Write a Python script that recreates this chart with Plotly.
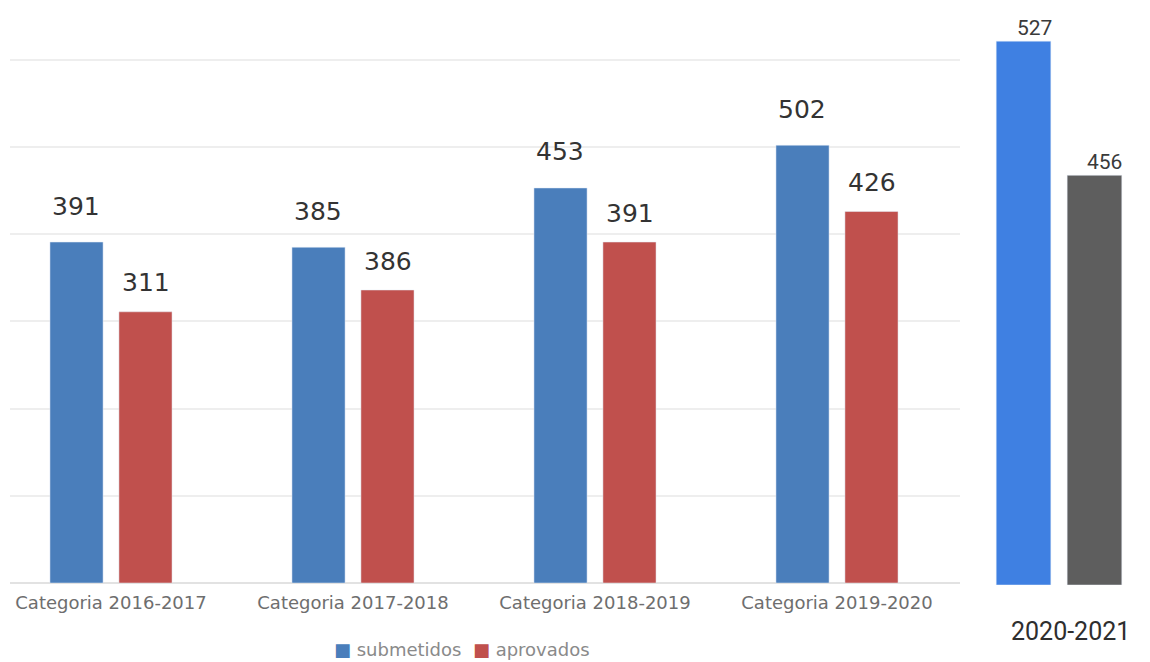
import plotly.graph_objects as go

# ---- data ----
categories = ["Categoria 2016-2017", "Categoria 2017-2018", "Categoria 2018-2019", "Categoria 2019-2020"]
series_names = ["submetidos", "aprovados"]
submetidos = [391, 385, 453, 502]
aprovados = [311, 336, 391, 426]          # bar heights as drawn
submetidos_labels = ["391", "385", "453", "502"]
aprovados_labels = ["311", "386", "391", "426"]  # labels as printed

cat_2021 = ["2020-2021"]
submetidos_2021 = [527]
aprovados_2021 = [397]                    # bar height as drawn
labels_2021 = ["527", "456"]

W, H = 1150, 662
BLUE, RED = "#4a7ebb", "#c0504d"

def px_x(p):
    return p / W

def px_y(p):
    return 1 - p / H

fig = go.Figure()

fig.add_trace(go.Bar(name=series_names[0], x=categories, y=submetidos,
                     marker=dict(color=BLUE), xaxis="x", yaxis="y"))
fig.add_trace(go.Bar(name=series_names[1], x=categories, y=aprovados,
                     marker=dict(color=RED), xaxis="x", yaxis="y"))

fig.add_trace(go.Bar(name=series_names[0] + " " + cat_2021[0], x=cat_2021, y=submetidos_2021,
                     marker=dict(color="#3f80e2"), xaxis="x2", yaxis="y2"))
fig.add_trace(go.Bar(name=series_names[1] + " " + cat_2021[0], x=cat_2021, y=aprovados_2021,
                     marker=dict(color="#5e5e5e"), xaxis="x2", yaxis="y2"))

annotations = []
for c, v, t in zip(categories, submetidos, submetidos_labels):
    annotations.append(dict(x=c, y=v, text=t, xref="x", yref="y", showarrow=False,
                            xshift=-35, yshift=36,
                            font=dict(family="DejaVu Sans", size=25, color="#333333")))
for c, v, t in zip(categories, aprovados, aprovados_labels):
    annotations.append(dict(x=c, y=v, text=t, xref="x", yref="y", showarrow=False,
                            xshift=35, yshift=29,
                            font=dict(family="DejaVu Sans", size=25, color="#333333")))
for i, (v, t) in enumerate(zip(submetidos_2021 + aprovados_2021, labels_2021)):
    annotations.append(dict(x=cat_2021[0], y=v, text=t, xref="x2", yref="y2", showarrow=False,
                            xshift=(-35 if i == 0 else 35) + 10, yshift=13,
                            font=dict(family="Roboto", size=21, color="#3a3a3a")))
# right-panel category label
annotations.append(dict(x=cat_2021[0], y=0, text=cat_2021[0], xref="x2", yref="y2",
                        showarrow=False, xshift=11, yshift=-46,
                        font=dict(family="Roboto", size=25, color="#2e2e2e")))
# compact legend
legend_text = (f'<span style="color:{BLUE}">■</span> {series_names[0]}  '
               f'<span style="color:{RED}">■</span> {series_names[1]}')
annotations.append(dict(x=px_x(462), y=px_y(649), xref="paper", yref="paper",
                        text=legend_text, showarrow=False, xanchor="center", yanchor="middle",
                        font=dict(family="DejaVu Sans", size=18, color="#8a8a8a")))

# left axis geometry
unit = 242.0
c0 = 111.0
left_start, left_end = 10.0, 960.0
base_left = 583.0
ppu_left = 0.872

# right axis geometry
unit2 = 249.0
c2 = 1059.0
right_start, right_end = 980.0, 1150.0
base_right = 585.0
ppu_right = 1.032

fig.update_layout(
    width=W, height=H,
    margin=dict(l=0, r=0, t=0, b=0),
    paper_bgcolor="white", plot_bgcolor="white",
    barmode="group", bargap=0.43, bargroupgap=0.23,
    showlegend=False,
    xaxis=dict(domain=[px_x(left_start), px_x(left_end)],
               range=[(left_start - c0) / unit, (left_end - c0) / unit],
               type="category", showgrid=False, zeroline=False,
               tickfont=dict(family="DejaVu Sans", size=18, color="#6e6e6e"),
               ticks="", anchor="y", ticklabelstandoff=7),
    yaxis=dict(domain=[px_y(base_left), 1], range=[0, base_left / ppu_left],
               showticklabels=False, showgrid=True, gridcolor="#eeeeee", gridwidth=2,
               dtick=100, zeroline=True, zerolinecolor="#e2e2e2", zerolinewidth=2,
               anchor="x"),
    xaxis2=dict(domain=[px_x(right_start), px_x(right_end)],
                range=[(right_start - c2) / unit2, (right_end - c2) / unit2],
                type="category", showgrid=False, zeroline=False,
                showticklabels=False, ticks="", anchor="y2"),
    yaxis2=dict(domain=[px_y(base_right), 1], range=[0, base_right / ppu_right],
                showticklabels=False, showgrid=False, zeroline=False, anchor="x2"),
    annotations=annotations,
)

fig.write_html("out.html")
